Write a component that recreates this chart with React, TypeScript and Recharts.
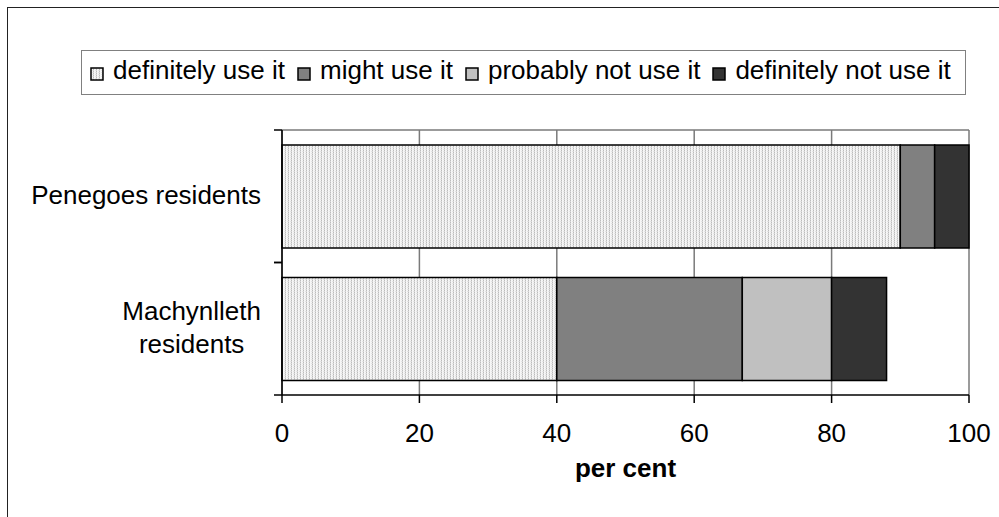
import { Bar, BarChart, CartesianGrid, Legend, XAxis, YAxis } from 'recharts';

const categories = ['Penegoes residents', 'Machynlleth residents'];
const categoryLines = [['Penegoes residents'], ['Machynlleth', 'residents']];

const definitelyUse = [90, 40];
const mightUse = [5, 27];
const probablyNot = [0, 13];
const definitelyNot = [5, 8];

const xTicks = [0, 20, 40, 60, 80, 100];

const series = [
  { key: 'definitely', name: 'definitely use it', fill: 'url(#stipple)' },
  { key: 'might', name: 'might use it', fill: '#808080' },
  { key: 'probably', name: 'probably not use it', fill: '#c0c0c0' },
  { key: 'never', name: 'definitely not use it', fill: '#333333' }
];

const data = categories.map((name, i) => ({
  name,
  definitely: definitelyUse[i],
  might: mightUse[i],
  probably: probablyNot[i],
  never: definitelyNot[i]
}));

const FONT = 'Arial, "Liberation Sans", sans-serif';
const TICK_SIZE = 8;
const TICK_GAP = 13;

let measureCtx: CanvasRenderingContext2D | null = null;
function textWidth(text: string) {
  if (!measureCtx) measureCtx = document.createElement('canvas').getContext('2d');
  if (!measureCtx) return text.length * 13;
  measureCtx.font = `26px ${FONT}`;
  return measureCtx.measureText(text).width;
}

function StipplePattern({ id }: { id: string }) {
  return (
    <pattern id={id} width="3" height="2" patternUnits="userSpaceOnUse">
      <rect x="0" y="0" width="3" height="2" fill="#f6f6f6" />
      <rect x="0" y="0" width="1" height="1" fill="#bcbcbc" />
      <rect x="0" y="1" width="1" height="1" fill="#d8d8d8" />
      <rect x="2" y="1" width="1" height="1" fill="#e4e4e4" />
    </pattern>
  );
}

// category labels plus tick marks at the band edges (Excel style)
function CategoryTick(props: any) {
  const { x, y, payload, height, visibleTicksCount } = props;
  const idx = categories.indexOf(payload.value);
  const lines = categoryLines[idx] ?? [String(payload.value)];
  const band = height && visibleTicksCount ? height / visibleTicksCount : 0;
  const widest = Math.max(...lines.map(textWidth));
  const lineGap = 33;
  const tickX1 = x + TICK_GAP;
  const tickX2 = tickX1 + TICK_SIZE;

  return (
    <g>
      <line x1={tickX1} x2={tickX2} y1={y - band / 2} y2={y - band / 2} stroke="#000" strokeWidth={1.5} />
      <line x1={tickX1} x2={tickX2} y1={y + band / 2} y2={y + band / 2} stroke="#000" strokeWidth={1.5} />
      {lines.map((line, i) => (
        <text
          key={line}
          x={lines.length > 1 ? x - widest / 2 : x}
          y={y + 7.5 + (i - (lines.length - 1) / 2) * lineGap}
          textAnchor={lines.length > 1 ? 'middle' : 'end'}
          fontSize={26}
          fontFamily={FONT}
          fill="#000"
        >
          {line}
        </text>
      ))}
    </g>
  );
}

function LegendBox() {
  return (
    <div
      style={{
        boxSizing: 'border-box',
        width: '100%',
        height: '100%',
        border: '1.5px solid #808080',
        background: '#fff',
        display: 'flex',
        alignItems: 'flex-start',
        paddingLeft: 8,
        paddingTop: 4,
        fontFamily: FONT,
        fontSize: 26,
        color: '#000',
        whiteSpace: 'nowrap'
      }}
    >
      {series.map((s) => (
        <span key={s.key} style={{ display: 'inline-flex', alignItems: 'center', marginRight: 12 }}>
          <svg width={14} height={14} style={{ marginRight: 9, marginTop: 6 }}>
            <defs>
              <StipplePattern id={`legend-${s.key}`} />
            </defs>
            <rect
              x={1}
              y={1}
              width={12}
              height={12}
              fill={s.key === 'definitely' ? `url(#legend-${s.key})` : s.fill}
              stroke="#000"
              strokeWidth={1.5}
            />
          </svg>
          {s.name}
        </span>
      ))}
    </div>
  );
}

export default function App() {
  return (
    <div style={{ position: 'absolute', left: 0, top: 0, width: 999, height: 517, overflow: 'hidden', background: '#fff' }}>
      <div
        style={{
          position: 'absolute',
          left: 7,
          top: 7,
          width: 1200,
          height: 800,
          border: '1.5px solid #222'
        }}
      />
      <div style={{ position: 'absolute', left: 0, top: 0 }}>
        <BarChart
          width={999}
          height={517}
          data={data}
          layout="vertical"
          margin={{ top: 130, right: 30, bottom: 22, left: 0 }}
          barCategoryGap={15}
        >
          <defs>
            <StipplePattern id="stipple" />
          </defs>
          <CartesianGrid
            stroke="#7a7a7a"
            strokeWidth={1.5}
            horizontalCoordinatesGenerator={({ offset }: any) => [offset.top]}
          />
          <XAxis
            type="number"
            domain={[0, 100]}
            ticks={xTicks}
            interval={0}
            tickSize={TICK_SIZE}
            tickMargin={21}
            height={100}
            axisLine={{ stroke: '#000', strokeWidth: 1.5 }}
            tickLine={{ stroke: '#000', strokeWidth: 1.5 }}
            tick={{ fill: '#000', fontSize: 26, fontFamily: FONT }}
            label={{
              value: 'per cent',
              position: 'insideBottom',
              offset: 18,
              fill: '#000',
              fontSize: 26,
              fontWeight: 700,
              fontFamily: FONT
            }}
          />
          <YAxis
            type="category"
            dataKey="name"
            width={282}
            tickSize={TICK_SIZE}
            tickMargin={TICK_GAP}
            tickLine={false}
            axisLine={{ stroke: '#000', strokeWidth: 1.5 }}
            tick={<CategoryTick />}
            interval={0}
          />
          <Legend
            layout="horizontal"
            verticalAlign="middle"
            align="center"
            wrapperStyle={{ top: 50, left: 81, width: 885, height: 45 }}
            content={() => <LegendBox />}
          />
          {series.map((s) => (
            <Bar
              key={s.key}
              dataKey={s.key}
              name={s.name}
              stackId="use"
              fill={s.fill}
              stroke="#000"
              strokeWidth={1.5}
              isAnimationActive={false}
            />
          ))}
        </BarChart>
      </div>
    </div>
  );
}
